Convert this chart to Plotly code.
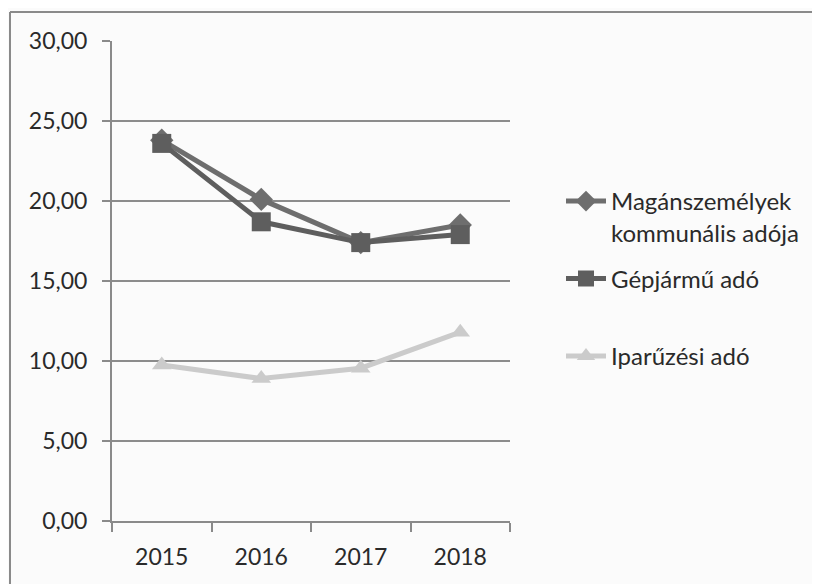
import plotly.graph_objects as go

years = ["2015", "2016", "2017", "2018"]
magan = [23.8, 20.1, 17.4, 18.5]
gepjarmu = [23.6, 18.7, 17.4, 17.9]
iparuzesi = [9.75, 8.9, 9.55, 11.8]
y_ticks = [0, 5, 10, 15, 20, 25, 30]

W, H = 820, 584
OFF = 8  # default page body margin
L, R, T, B = 112 - OFF, 310 + OFF, 41 - OFF, 63 + OFF
pw, ph = W - L - R, H - T - B

FONT = "Lato, 'Open Sans', sans-serif"

fig = go.Figure()
fig.add_trace(go.Scatter(
    x=years, y=magan, mode="lines+markers",
    name="Magánszemélyek<br>kommunális adója", legendgroup="a",
    line=dict(color="#6e6e6e", width=5),
    marker=dict(symbol="diamond", size=18, color="#6e6e6e"),
))
fig.add_trace(go.Scatter(
    x=years, y=gepjarmu, mode="lines+markers",
    name="Gépjármű adó<br> ", legendgroup="b",
    line=dict(color="#5e5e5e", width=5),
    marker=dict(symbol="square", size=19, color="#5e5e5e"),
))
fig.add_trace(go.Scatter(
    x=years, y=iparuzesi, mode="lines+markers",
    name="Iparűzési adó", legendgroup="c",
    line=dict(color="#cbcbcb", width=5),
    marker=dict(symbol="triangle-up", size=17, color="#cbcbcb"),
))

# chart outer frame (decoration)
fx0 = (10 - OFF - L) / pw
fy1 = (H - B - (12 - OFF)) / ph
fig.add_shape(type="line", xref="paper", yref="paper",
              x0=fx0, x1=fx0, y0=fy1, y1=-0.5,
              line=dict(color="#8a8a8a", width=2))
fig.add_shape(type="line", xref="paper", yref="paper",
              x0=fx0, x1=2.0, y0=fy1, y1=fy1,
              line=dict(color="#8a8a8a", width=2))

fig.update_layout(
    width=W, height=H,
    margin=dict(l=L, r=R, t=T, b=B),
    paper_bgcolor="#fbfbfb", plot_bgcolor="#fbfbfb",
    separators=",.",
    font=dict(family=FONT, size=23, color="#2a2a2a"),
    showlegend=True,
    legend=dict(
        x=(561 - OFF - L) / pw, xanchor="left",
        y=(H - B - (179 - OFF)) / ph, yanchor="top",
        font=dict(family=FONT, size=24, color="#2a2a2a"),
        traceorder="grouped", tracegroupgap=12, valign="top",
        bgcolor="rgba(0,0,0,0)", itemwidth=40,
    ),
    xaxis=dict(
        type="category", range=[-0.5, 3.5], showgrid=False,
        showline=True, linecolor="#8a8a8a", linewidth=2,
        ticks="outside", tickson="boundaries", ticklen=9,
        tickcolor="#8a8a8a", tickwidth=2,
        ticklabelstandoff=14,
        tickfont=dict(family=FONT, size=23, color="#2a2a2a"),
        fixedrange=True,
    ),
    yaxis=dict(
        range=[0, 30], tickvals=y_ticks, tickformat=".2f",
        showgrid=True, gridcolor="#8c8c8c", gridwidth=2,
        showline=True, linecolor="#8a8a8a", linewidth=2,
        ticks="outside", ticklen=8, tickcolor="#8a8a8a", tickwidth=2,
        ticklabelstandoff=10,
        zeroline=False,
        tickfont=dict(family=FONT, size=23, color="#2a2a2a"),
        fixedrange=True,
    ),
)

fig.write_html("out.html")
